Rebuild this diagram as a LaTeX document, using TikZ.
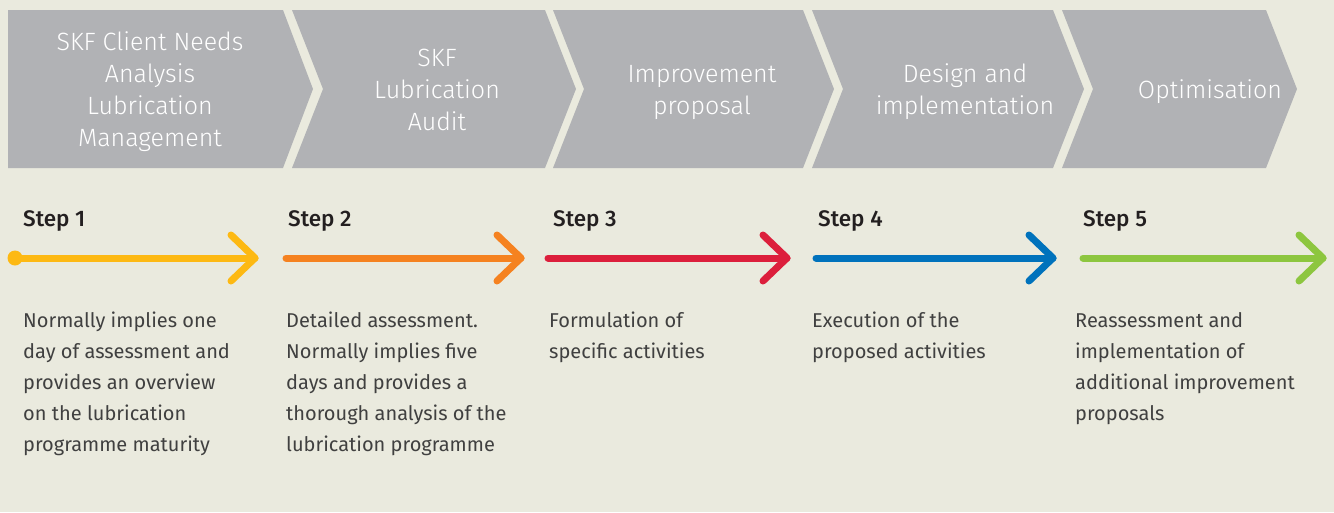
\documentclass[tikz,border=0pt]{standalone}
\usepackage{fontspec}
\setmainfont{Fira Sans}[UprightFont=* Light, BoldFont=* Medium]
\newfontfamily\bodyfont{Fira Sans}
\usetikzlibrary{calc}
\definecolor{bg}{HTML}{EAEADE}
\definecolor{chev}{HTML}{B1B2B5}
\definecolor{txt}{HTML}{404040}
\definecolor{steptxt}{HTML}{231F20}
\definecolor{cyellow}{HTML}{FDB913}
\definecolor{corange}{HTML}{F58220}
\definecolor{cred}{HTML}{DC1F3C}
\definecolor{cblue}{HTML}{0072BC}
\definecolor{cgreen}{HTML}{8DC63F}
\begin{document}
\begin{tikzpicture}[x=1pt,y=-1pt,
  chevshape/.style={fill=chev},
  chevtext/.style={text=white, align=center, font=\fontsize{25}{32}\selectfont, inner sep=0},
  steplabel/.style={text=steptxt, anchor=base west, font=\fontsize{22.5}{25}\selectfont\bfseries, inner sep=0},
  bodytext/.style={text=txt, anchor=north west, align=left, font=\fontsize{20}{31}\selectfont\bodyfont, inner sep=0},
  arrowline/.style={line width=7pt, line cap=round, line join=round}]
\fill[bg] (0,0) rectangle (1334,512);
\useasboundingbox (0,0) rectangle (1334,512);
% chevrons
\fill[chevshape] (8,10) -- (283,10) -- (313,89) -- (283,168) -- (8,168) -- cycle;
\fill[chevshape] (292,10) -- (545,10) -- (576,89) -- (545,168) -- (292,168) -- (323,89) -- cycle;
\fill[chevshape] (553,10) -- (803,10) -- (834,89) -- (803,168) -- (553,168) -- (584,89) -- cycle;
\fill[chevshape] (812,10) -- (1053,10) -- (1084,89) -- (1053,168) -- (812,168) -- (843,89) -- cycle;
\fill[chevshape] (1062,10) -- (1266,10) -- (1297,89) -- (1266,168) -- (1062,168) -- (1093,89) -- cycle;
% chevron texts
\node[chevtext] (c1) at (150,92) {SKF Client Needs\\Analysis\\Lubrication\\Management};
\node[chevtext] (c2) at (437,90) {SKF\\Lubrication\\Audit};
\node[chevtext] (c3) at (702,92) {Improvement\\proposal};
\node[chevtext] (c4) at (965,92) {Design and\\implementation};
\node[chevtext] (c5) at (1210,92) {Optimisation};
% step labels
\node[steplabel] (l1) at (23,226) {Step 1};
\node[steplabel] (l2) at (288,226) {Step 2};
\node[steplabel] (l3) at (553,226) {Step 3};
\node[steplabel] (l4) at (818,226) {Step 4};
\node[steplabel] (l5) at (1083,226) {Step 5};
% arrows
\coordinate (s1) at (15,258);   \coordinate (t1) at (255,258);
\coordinate (s2) at (286,258);  \coordinate (t2) at (521,258);
\coordinate (s3) at (548,258);  \coordinate (t3) at (787,258);
\coordinate (s4) at (816,258);  \coordinate (t4) at (1053,258);
\coordinate (s5) at (1083,258); \coordinate (t5) at (1323,258);
\fill[cyellow] (s1) circle[radius=7.5pt];
\foreach \i/\c in {1/cyellow,2/corange,3/cred,4/cblue,5/cgreen}{
  \draw[arrowline, draw=\c] (s\i) -- (t\i);
  \draw[arrowline, draw=\c] ($(t\i)+(-24,-23)$) -- (t\i) -- ($(t\i)+(-24,23)$);
}
% body texts
\node[bodytext] (b1) at (23,312) {Normally implies one\\day of assessment and\\provides an overview\\on the lubrication\\programme maturity};
\node[bodytext] (b2) at (286,312) {Detailed assessment.\\Normally implies five\\days and provides a\\thorough analysis of the\\lubrication programme};
\node[bodytext] (b3) at (549,312) {Formulation of\\specific activities};
\node[bodytext] (b4) at (812,312) {Execution of the\\proposed activities};
\node[bodytext] (b5) at (1075,312) {Reassessment and\\implementation of\\additional improvement\\proposals};
\end{tikzpicture}
\end{document}
